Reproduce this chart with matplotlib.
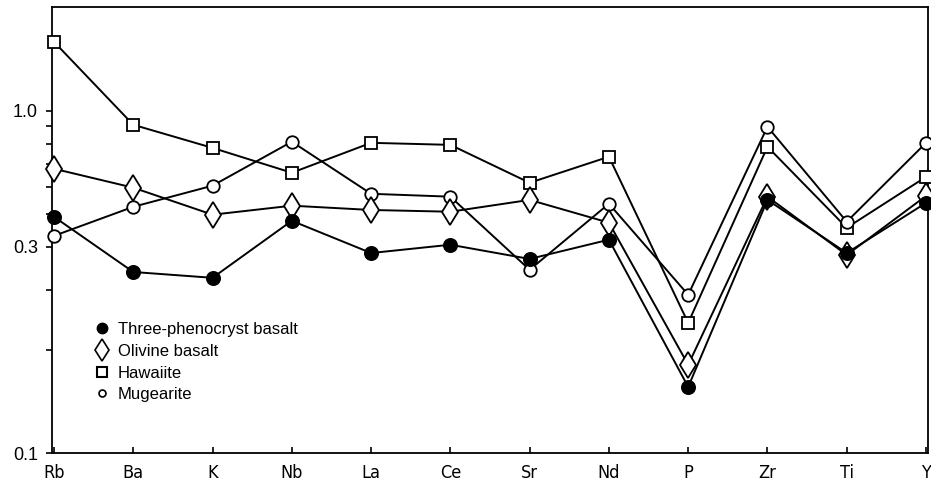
import matplotlib
matplotlib.use("Agg")
import matplotlib.pyplot as plt
from matplotlib.lines import Line2D
from matplotlib.ticker import FixedLocator, NullFormatter

elements = ["Rb", "Ba", "K", "Nb", "La", "Ce", "Sr", "Nd", "P", "Zr", "Ti", "Y"]

three_phenocryst = [0.490, 0.338, 0.325, 0.477, 0.384, 0.406, 0.369, 0.420, 0.156, 0.549, 0.384, 0.538]
olivine_basalt = [0.677, 0.596, 0.497, 0.528, 0.513, 0.507, 0.549, 0.471, 0.181, 0.561, 0.379, 0.564]
hawaiite = [1.59, 0.910, 0.779, 0.659, 0.806, 0.795, 0.616, 0.734, 0.240, 0.785, 0.455, 0.641]
mugearite = [0.431, 0.524, 0.604, 0.812, 0.572, 0.561, 0.343, 0.535, 0.290, 0.898, 0.474, 0.806]

# y tick labels as printed on the original figure
ytick_vals = [0.1, 0.4, 1.0]
ytick_text = ["0.1", "0.3", "1.0"]
ytick_minor = [0.2, 0.3, 0.5, 0.6, 0.7, 0.8, 0.9]

x = list(range(len(elements)))

fig = plt.figure(figsize=(9.31, 4.91), dpi=100)
ax = fig.add_axes([52 / 931, 1 - 453 / 491, 876 / 931, 446 / 491])

lw = 1.4
common = dict(color="black", lw=lw, clip_on=False, mec="black", mew=1.3)
ax.plot(x, hawaiite, marker="s", ms=9, mfc="white", zorder=3, **common)
ax.plot(x, mugearite, marker="o", ms=9, mfc="white", zorder=3, **common)
ax.plot(x, olivine_basalt, marker="d", ms=13, mfc="white", zorder=4, **common)
ax.plot(x, three_phenocryst, marker="o", ms=9.5, mfc="black", zorder=5, **common)

ax.set_yscale("log")
ax.set_ylim(0.1, 2.01)
ax.set_xlim(-0.025, 11.025)

ax.yaxis.set_major_locator(FixedLocator(ytick_vals))
ax.set_yticklabels(ytick_text)
ax.yaxis.set_minor_locator(FixedLocator(ytick_minor))
ax.yaxis.set_minor_formatter(NullFormatter())

ax.set_xticks(x)
ax.set_xticklabels(elements, family="DejaVu Sans", fontstretch="condensed", fontsize=13)

ax.tick_params(axis="y", which="both", direction="out", length=4, width=1.2,
               labelsize=13, pad=6)
ax.tick_params(axis="x", direction="in", length=4, width=1.2, pad=8)
for lab in ax.get_yticklabels():
    lab.set_family(["Liberation Sans", "DejaVu Sans"])

for s in ax.spines.values():
    s.set_linewidth(1.3)

handles = [
    Line2D([], [], ls="none", marker="o", ms=7.5, mfc="black", mec="black"),
    Line2D([], [], ls="none", marker="d", ms=11.5, mfc="white", mec="black", mew=1.2),
    Line2D([], [], ls="none", marker="s", ms=7, mfc="white", mec="black", mew=1.5),
    Line2D([], [], ls="none", marker="o", ms=5, mfc="white", mec="black", mew=1.2),
]
labels = ["Three-phenocryst basalt", "Olivine basalt", "Hawaiite", "Mugearite"]
ax.legend(handles, labels, loc="upper left", bbox_to_anchor=(0.0476, 0.293),
          frameon=False, borderaxespad=0, borderpad=0, handlelength=1.0,
          handletextpad=0.45, labelspacing=0.4,
          prop={"family": ["Liberation Sans", "DejaVu Sans"], "size": 12})

fig.savefig("out.png", dpi=100)
